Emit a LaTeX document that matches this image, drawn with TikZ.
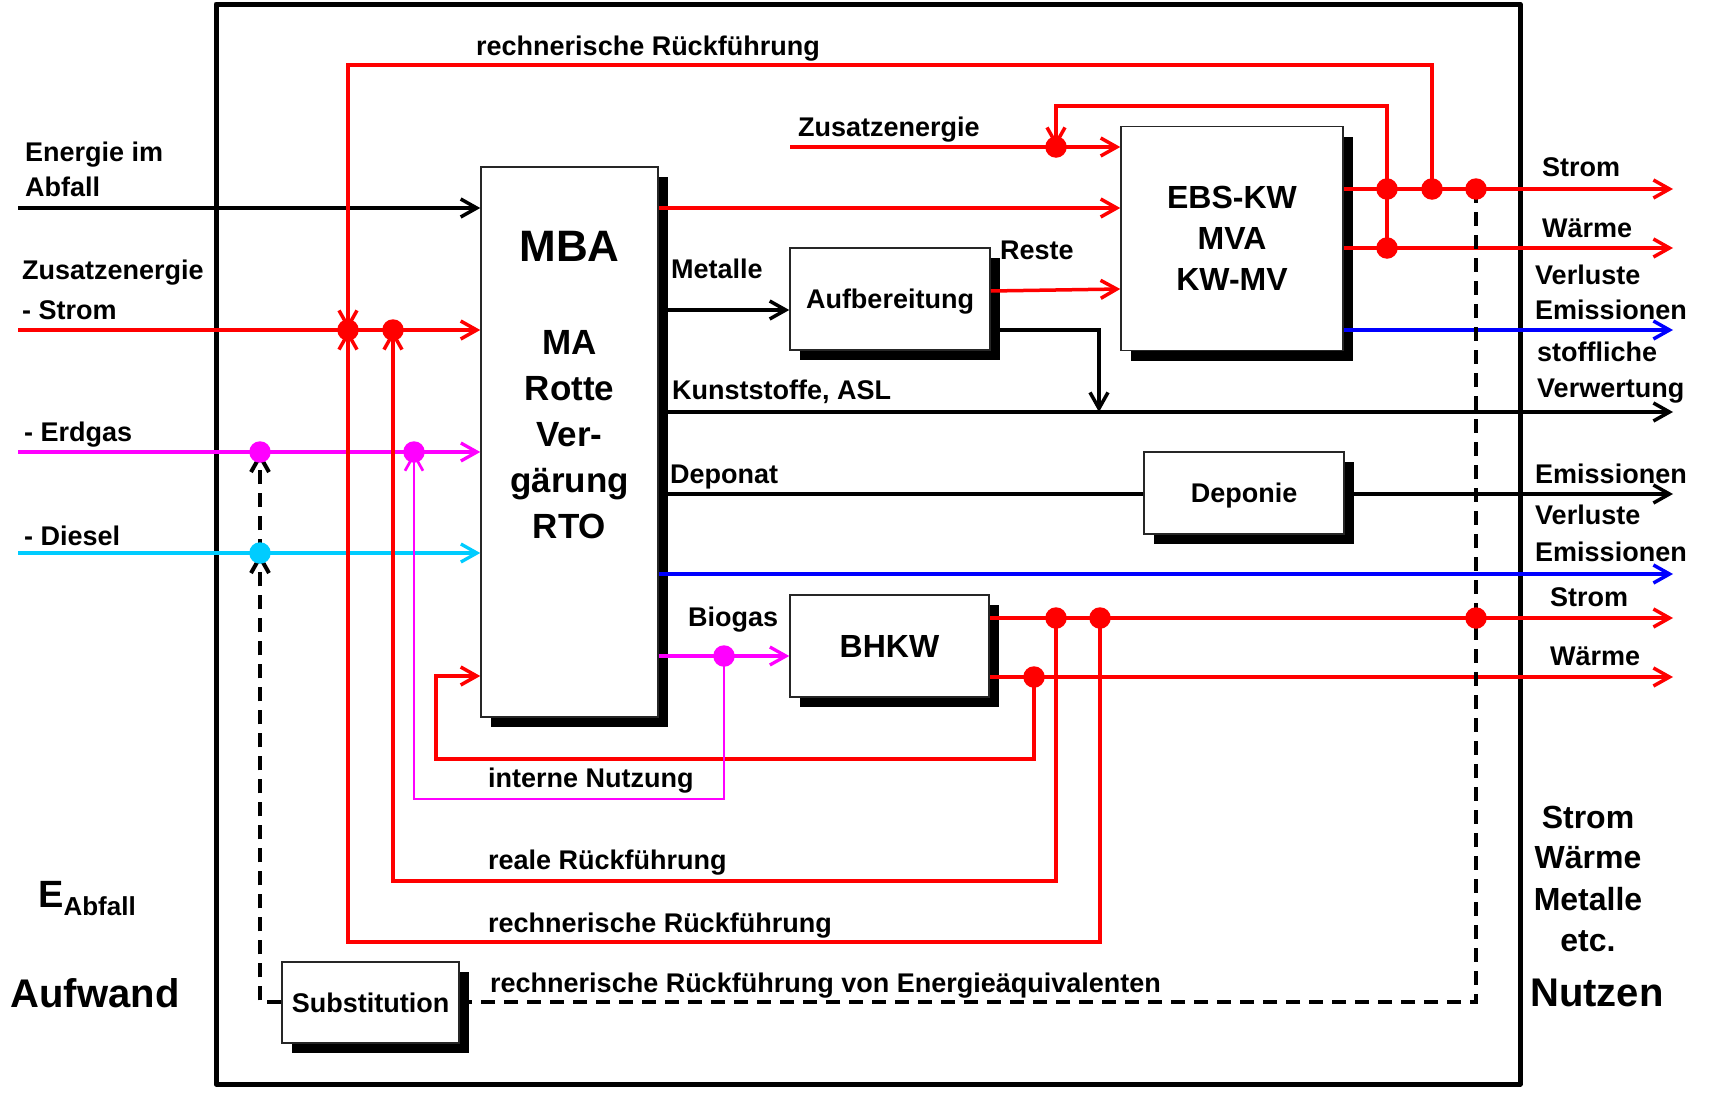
\documentclass[tikz,border=0pt]{standalone}
\usepackage{fontspec}
\setmainfont{Liberation Sans}
\usetikzlibrary{arrows.meta,shadows,calc}
\definecolor{rd}{RGB}{255,0,0}
\definecolor{mag}{RGB}{255,0,255}
\definecolor{cyd}{RGB}{0,204,255}
\definecolor{blu}{RGB}{0,0,255}
\begin{document}
\begin{tikzpicture}[x=1pt,y=-1pt,
  lbl/.style={inner sep=0pt, text height=22pt, text depth=4pt, font=\bfseries\fontsize{27}{27}\selectfont},
  big/.style={inner sep=0pt, font=\bfseries\fontsize{#1}{#1}\selectfont},
  box/.style={draw=black!85, line width=1.5pt, fill=white, inner sep=0pt,
    drop shadow={shadow xshift=10pt, shadow yshift=-10pt, fill=black, opacity=1}},
  ar/.style={-{Straight Barb[length=16pt,width=18pt]}},
  bk/.style={draw=black, line width=3.5pt},
  rl/.style={draw=rd, line width=3.5pt},
  ml/.style={draw=mag, line width=3.3pt},
  mlt/.style={draw=mag, line width=2.7pt},
  cl/.style={draw=cyd, line width=3.3pt},
  bl/.style={draw=blu, line width=3.5pt},
  dl/.style={draw=black, line width=4pt, dash pattern=on 14pt off 9pt},
  jdot/.style={circle, fill=#1, inner sep=0pt, minimum size=21.5pt}
]
\useasboundingbox (0,0) rectangle (1709,1095);
\fill[white] (0,0) rectangle (1709,1095);
\draw[line width=5pt, line join=round] (216,4) rectangle (1520,1084);

% boxes
\node[box, minimum width=177pt, minimum height=550pt] (mba) at (569.5,442) {};
\node[big=44] (tmba) at (569.5,246) {MBA};
\node[inner sep=0pt, align=center, font=\bfseries\fontsize{35}{46}\selectfont] (tma) at (569.5,435) {MA\\Rotte\\Ver-\\gärung\\RTO};
\node[box, minimum width=222pt, minimum height=224pt, align=center, font=\bfseries\fontsize{32}{41}\selectfont] (ebs) at (1232,238.5) {EBS-KW\\MVA\\KW-MV};
\node[box, minimum width=200pt, minimum height=102pt, text height=23pt, text depth=4pt, font=\bfseries\fontsize{27}{27}\selectfont] (aufb) at (890,299) {Aufbereitung};
\node[box, minimum width=200pt, minimum height=82pt, text height=23pt, text depth=4pt, font=\bfseries\fontsize{27}{27}\selectfont] (dep) at (1244,493) {Deponie};
\node[box, minimum width=199pt, minimum height=102pt, font=\bfseries\fontsize{32}{32}\selectfont] (bhkw) at (889.5,646) {BHKW};
\node[box, minimum width=177pt, minimum height=81pt, font=\bfseries\fontsize{27}{27}\selectfont] (sub) at (370.5,1002.5) {Substitution};

% coordinates
\coordinate (inE) at (18,208);
\coordinate (inS) at (18,330);
\coordinate (inG) at (18,452);
\coordinate (inD) at (18,553);
\coordinate (jS1) at (348,330);
\coordinate (jS2) at (393,330);
\coordinate (jG1) at (260,452);
\coordinate (jG2) at (414,452);
\coordinate (jD1) at (260,553);
\coordinate (jZ) at (1056,147);
\coordinate (jE1) at (1387,189);
\coordinate (jE2) at (1432,189);
\coordinate (jE3) at (1476,189);
\coordinate (jE4) at (1387,248);
\coordinate (jB1) at (724,656);
\coordinate (jH1) at (1034,677);
\coordinate (jH2) at (1056,618);
\coordinate (jH3) at (1100,618);
\coordinate (jH4) at (1476,618);
\coordinate (zIn) at (790,147);
\coordinate (kA) at (1099,412);
\coordinate (oES) at (1673,189);
\coordinate (oEW) at (1673,248);
\coordinate (oEB) at (1673,330);
\coordinate (oK) at (1673,412);
\coordinate (oD) at (1673,494);
\coordinate (oB) at (1673,574);
\coordinate (oBS) at (1673,618);
\coordinate (oBW) at (1673,677);

% inputs
\draw[bk,ar] (inE) -- (inE -| mba.west);
\draw[rl,ar] (inS) -- (inS -| mba.west);
\draw[ml,ar] (inG) -- (inG -| mba.west);
\draw[cl,ar] (inD) -- (inD -| mba.west);

% MBA outputs
\draw[rl,ar] (mba.east |- inE) -- (ebs.west |- inE);
\draw[bk,ar] (mba.east |- 0,310) -- (aufb.west |- 0,310);
\draw[rl,ar] (aufb.east |- 0,291) -- (ebs.west |- 0,289);
\draw[bk,ar] (aufb.east |- 0,330) -| (kA);
\draw[bk,ar] (mba.east |- oK) -- (oK);
\draw[bk] (mba.east |- oD) -- (dep.west |- oD);
\draw[bk,ar] (dep.east |- oD) -- (oD);
\draw[bl,ar] (mba.east |- oB) -- (oB);
\draw[ml,ar] (mba.east |- jB1) -- (bhkw.west |- jB1);

% EBS
\draw[rl,ar] (zIn) -- (ebs.west |- zIn);
\draw[rl,ar] (ebs.east |- oES) -- (oES);
\draw[rl,ar] (ebs.east |- oEW) -- (oEW);
\draw[bl,ar] (ebs.east |- oEB) -- (oEB);
\draw[rl,ar] (jE1) -- (1387,106) -| (jZ);
\draw[rl] (jE1) -- (jE4);
\draw[rl,ar] (jE2) -- (1432,65) -| (jS1);

% BHKW
\draw[rl,ar] (bhkw.east |- oBS) -- (oBS);
\draw[rl,ar] (bhkw.east |- oBW) -- (oBW);
\draw[rl,ar] (jH1) -- (1034,759) -| (436,676) -- (mba.west |- 0,676);
\draw[rl,ar] (jH2) -- (1056,881) -| (jS2);
\draw[rl,ar] (jH3) -- (1100,942) -| (jS1);
\draw[mlt,ar] (jB1) -- (724,799) -| (jG2);

% dashed substitution
\draw[dl] (jE3) -- (1476,1002) -- (sub.east |- 0,1002);
\draw[dl,ar] (sub.west |- 0,1002) -| (jD1);
\draw[dl,ar] (jD1) -- (jG1);

% dots
\foreach \p in {jS1,jS2,jZ,jE1,jE2,jE3,jE4,jH1,jH2,jH3,jH4}
  \node[jdot=rd] (d\p) at (\p) {};
\node[jdot=mag] (djG1) at (jG1) {};
\node[jdot=mag] (djG2) at (jG2) {};
\node[jdot=mag] (djB1) at (jB1) {};
\node[jdot=cyd] (djD1) at (jD1) {};

% left labels
\node[lbl, anchor=west] (l1) at (25,152) {Energie im};
\node[lbl, anchor=west] (l2) at (25,187) {Abfall};
\node[lbl, anchor=west] (l3) at (22,270) {Zusatzenergie};
\node[lbl, anchor=west] (l4) at (22,310) {- Strom};
\node[lbl, anchor=west] (l5) at (24,432) {- Erdgas};
\node[lbl, anchor=west] (l6) at (24,536) {- Diesel};

% inner labels
\node[lbl, anchor=west] (t1) at (476,46) {rechnerische Rückführung};
\node[lbl, anchor=west] (t2) at (798,127) {Zusatzenergie};
\node[lbl, anchor=west] (t3) at (671,269) {Metalle};
\node[lbl, anchor=west] (t4) at (1000,250) {Reste};
\node[lbl, anchor=west] (t5) at (672,390) {Kunststoffe, ASL};
\node[lbl, anchor=west] (t6) at (670,474) {Deponat};
\node[lbl, anchor=west] (t7) at (688,617) {Biogas};
\node[lbl, anchor=west] (t8) at (488,778) {interne Nutzung};
\node[lbl, anchor=west] (t9) at (488,860) {reale Rückführung};
\node[lbl, anchor=west] (t10) at (488,923) {rechnerische Rückführung};
\node[lbl, anchor=west] (t11) at (490,983) {rechnerische Rückführung von Energieäquivalenten};

% right labels
\node[lbl, anchor=west] (r1) at (1542,167) {Strom};
\node[lbl, anchor=west] (r2) at (1542,228) {Wärme};
\node[lbl, anchor=west] (r3) at (1535,275) {Verluste};
\node[lbl, anchor=west] (r4) at (1535,310) {Emissionen};
\node[lbl, anchor=west] (r5) at (1537,352) {stoffliche};
\node[lbl, anchor=west] (r6) at (1537,388) {Verwertung};
\node[lbl, anchor=west] (r7) at (1535,474) {Emissionen};
\node[lbl, anchor=west] (r8) at (1535,515) {Verluste};
\node[lbl, anchor=west] (r9) at (1535,552) {Emissionen};
\node[lbl, anchor=west] (r10) at (1550,597) {Strom};
\node[lbl, anchor=west] (r11) at (1550,656) {Wärme};

% bottom corners
\node[big=32] (n1) at (1588,817) {Strom};
\node[big=32] (n2) at (1588,858) {Wärme};
\node[big=32] (n3) at (1588,899) {Metalle};
\node[big=32] (n4) at (1588,941) {etc.};
\node[big=40] (n5) at (1597,993) {Nutzen};
\node[big=40] (a1) at (95,993) {Aufwand};
\node[inner sep=0pt, anchor=base west, font=\bfseries] (a2) at (38,907) {\fontsize{38}{38}\selectfont E\raisebox{-8pt}{\fontsize{26}{26}\selectfont Abfall}};
\end{tikzpicture}
\end{document}
